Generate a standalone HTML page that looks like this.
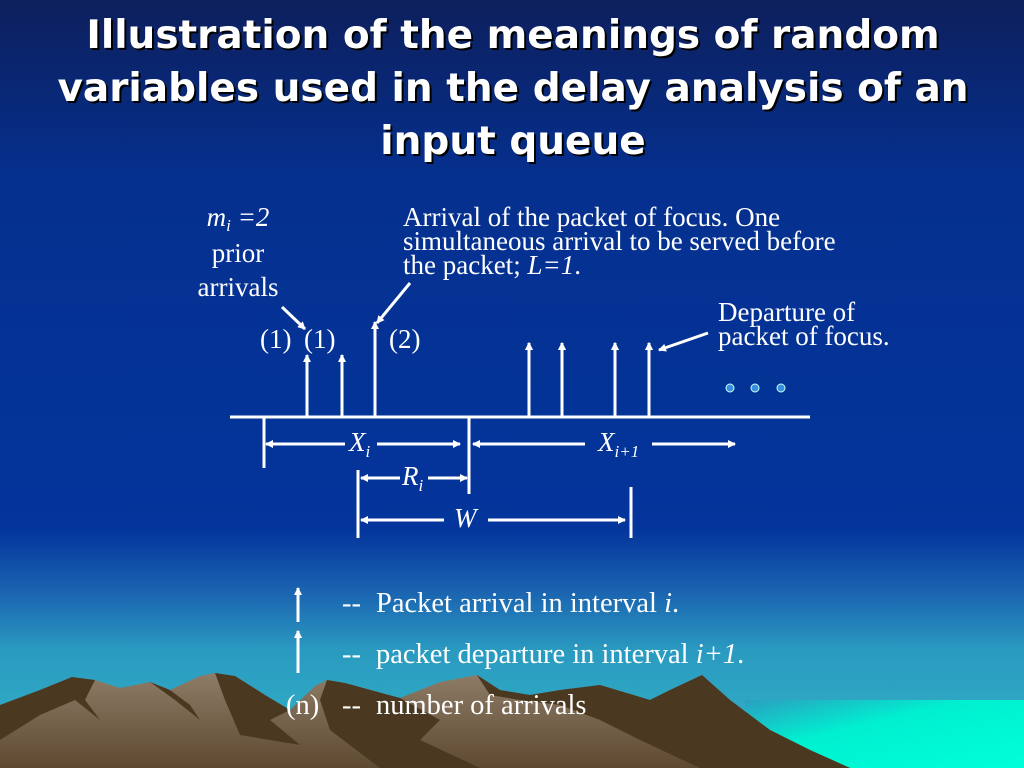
<!DOCTYPE html>
<html><head><meta charset="utf-8"><style>
html,body{margin:0;padding:0;width:1024px;height:768px;overflow:hidden}
body{background:linear-gradient(to bottom,#0d1f5c 0px,#05308f 180px,#04359c 530px,#1a62b0 590px,#2a9ac0 650px,#34b6c8 768px);}
svg{position:absolute;left:0;top:0}
.t{font-family:"DejaVu Sans","Liberation Sans",sans-serif;font-weight:bold;font-size:39px}
.s{font-family:"Liberation Serif",serif;font-size:27px;fill:#fff}
.l{font-family:"Liberation Serif",serif;font-size:28.5px;fill:#fff}
</style></head><body>
<svg width="1024" height="768" viewBox="0 0 1024 768">
<defs>
<marker id="a" markerWidth="8" markerHeight="8" refX="7" refY="4" orient="auto" markerUnits="userSpaceOnUse"><path d="M0,0 L8,4 L0,8 z" fill="#fff"/></marker>
<linearGradient id="sea" x1="0" y1="0" x2="1" y2="1"><stop offset="0" stop-color="#2a9fc0"/><stop offset="0.4" stop-color="#00f0d0"/><stop offset="1" stop-color="#00ffd8"/></linearGradient>
<linearGradient id="mt" x1="0" y1="0" x2="0" y2="1"><stop offset="0" stop-color="#8e7c68"/><stop offset="1" stop-color="#5e4a30"/></linearGradient>
</defs>
<polygon points="745,700 1024,700 1024,768 745,768" fill="url(#sea)"/>
<polygon fill="url(#mt)" points="0,705 40,690 72,677 95,680 120,688 150,682 170,690 200,676 215,673 235,676 265,695 290,710 315,686 327,680 345,683 400,698 440,682 477,675 500,690 530,695 560,690 600,685 650,700 670,690 702,675 730,700 770,730 810,750 850,768 0,768"/>
<g fill="#4a3820">
<polygon points="72,677 95,680 85,700 100,720 75,700 40,715 0,740 0,705 40,690"/>
<polygon points="215,673 235,676 265,695 290,710 270,720 300,745 240,735 225,700"/>
<polygon points="327,680 345,683 400,698 440,720 420,740 480,768 380,768 330,730 320,700"/>
<polygon points="477,675 500,690 530,695 560,690 600,685 650,700 670,690 702,675 730,700 770,730 810,750 850,768 700,768 640,740 600,720 560,705 520,700 490,695"/>
<polygon points="150,682 170,690 190,705 200,720 175,700"/>
</g>
<g text-anchor="middle">
<text class="t" x="513" y="48" fill="#000" transform="translate(2,2)">Illustration of the meanings of random</text>
<text class="t" x="513" y="48" fill="#fff">Illustration of the meanings of random</text>
<text class="t" x="513" y="101" fill="#000" transform="translate(2,2)">variables used in the delay analysis of an</text>
<text class="t" x="513" y="101" fill="#fff">variables used in the delay analysis of an</text>
<text class="t" x="513" y="154" fill="#000" transform="translate(2,2)">input queue</text>
<text class="t" x="513" y="154" fill="#fff">input queue</text>
</g>
<text class="s" x="238" y="226" text-anchor="middle" font-style="italic">m<tspan font-size="17" dy="5">i</tspan><tspan dy="-5"> =2</tspan></text>
<text class="s" x="238" y="262" text-anchor="middle">prior</text>
<text class="s" x="238" y="296" text-anchor="middle">arrivals</text>
<text class="s" x="403" y="226">Arrival of the packet of focus. One</text>
<text class="s" x="403" y="250">simultaneous arrival to be served before</text>
<text class="s" x="403" y="274">the packet; <tspan font-style="italic">L=1</tspan>.</text>
<text class="s" x="718" y="321">Departure of</text>
<text class="s" x="718" y="345">packet of focus.</text>
<text class="s" x="260" y="348">(1)</text>
<text class="s" x="304" y="348">(1)</text>
<text class="s" x="389" y="348">(2)</text>
<g stroke="#fff" stroke-width="3" fill="none">
<line x1="230" y1="417" x2="810" y2="417"/>
<line x1="307" y1="417" x2="307" y2="355" marker-end="url(#a)"/>
<line x1="342" y1="417" x2="342" y2="355" marker-end="url(#a)"/>
<line x1="375" y1="417" x2="375" y2="322" marker-end="url(#a)"/>
<line x1="529" y1="417" x2="529" y2="343" marker-end="url(#a)"/>
<line x1="562" y1="417" x2="562" y2="343" marker-end="url(#a)"/>
<line x1="615" y1="417" x2="615" y2="343" marker-end="url(#a)"/>
<line x1="649" y1="417" x2="649" y2="343" marker-end="url(#a)"/>
<line x1="529" y1="352" x2="529" y2="343" marker-end="url(#a)"/>
<line x1="562" y1="352" x2="562" y2="343" marker-end="url(#a)"/>
<line x1="615" y1="352" x2="615" y2="343" marker-end="url(#a)"/>
<line x1="649" y1="352" x2="649" y2="343" marker-end="url(#a)"/>
<line x1="282" y1="307" x2="305" y2="329" marker-end="url(#a)"/>
<line x1="410" y1="283" x2="377" y2="323" marker-end="url(#a)"/>
<line x1="708" y1="333" x2="659" y2="350" marker-end="url(#a)"/>
<line x1="264" y1="417" x2="264" y2="468"/>
<line x1="469" y1="417" x2="469" y2="494"/>
<line x1="358" y1="470" x2="358" y2="538"/>
<line x1="631" y1="487" x2="631" y2="538"/>
<line x1="345" y1="444" x2="266" y2="444" marker-end="url(#a)"/>
<line x1="377" y1="444" x2="460" y2="444" marker-end="url(#a)"/>
<line x1="585" y1="444" x2="473" y2="444" marker-end="url(#a)"/>
<line x1="652" y1="444" x2="735" y2="444" marker-end="url(#a)"/>
<line x1="400" y1="478" x2="361" y2="478" marker-end="url(#a)"/>
<line x1="428" y1="478" x2="467" y2="478" marker-end="url(#a)"/>
<line x1="444" y1="520" x2="361" y2="520" marker-end="url(#a)"/>
<line x1="488" y1="520" x2="625" y2="520" marker-end="url(#a)"/>
<line x1="298" y1="622" x2="298" y2="588" marker-end="url(#a)"/>
<line x1="298" y1="673" x2="298" y2="631" marker-end="url(#a)"/>
<line x1="298" y1="641" x2="298" y2="631" marker-end="url(#a)"/>
</g>
<g fill="#3a8ee0" stroke="#cfe" stroke-width="1"><circle cx="730" cy="388" r="4"/><circle cx="755" cy="388" r="4"/><circle cx="781" cy="388" r="4"/></g>
<text class="s" x="349" y="451" font-style="italic">X<tspan font-size="17" dy="6">i</tspan></text>
<text class="s" x="598" y="451" font-style="italic">X<tspan font-size="17" dy="6">i+1</tspan></text>
<text class="s" x="402" y="485" font-style="italic">R<tspan font-size="17" dy="6">i</tspan></text>
<text class="s" x="454" y="527" font-style="italic">W</text>
<text class="l" x="342" y="612">--</text>
<text class="l" x="376" y="612">Packet arrival in interval <tspan font-style="italic">i</tspan>.</text>
<text class="l" x="342" y="663">--</text>
<text class="l" x="376" y="663">packet departure in interval <tspan font-style="italic">i+1</tspan>.</text>
<text class="l" x="286" y="714">(n)</text>
<text class="l" x="342" y="714">--</text>
<text class="l" x="376" y="714">number of arrivals</text>
</svg>
</body></html>
